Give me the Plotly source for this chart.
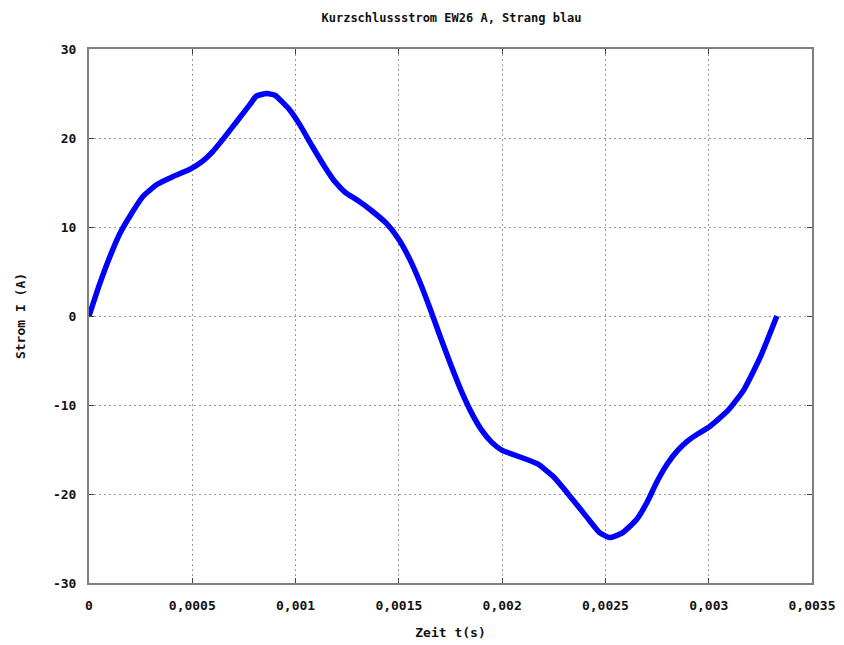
import plotly.graph_objects as go

t_s = [0, 0.00005, 0.0001, 0.00015, 0.0002, 0.00026, 0.00033, 0.00041, 0.00049, 0.00055,
       0.0006, 0.00065, 0.00072, 0.00078, 0.00081, 0.00086, 0.0009, 0.00097, 0.00102, 0.00108,
       0.00114, 0.00119, 0.00124, 0.0013, 0.00137, 0.00144, 0.0015, 0.00155, 0.0016, 0.00165,
       0.0017, 0.00175, 0.0018, 0.00185, 0.0019, 0.00195, 0.002, 0.00207, 0.00217, 0.00225,
       0.00233, 0.00241, 0.00247, 0.00252, 0.00258, 0.00265, 0.0027, 0.00275, 0.0028, 0.00285,
       0.0029, 0.00295, 0.003, 0.00309, 0.00317, 0.00325, 0.00333]
strom_a = [0, 3.5, 6.6, 9.3, 11.3, 13.4, 14.8, 15.7, 16.5, 17.4,
           18.5, 19.9, 22.0, 23.8, 24.7, 25.0, 24.8, 23.2, 21.5, 19.1,
           16.8, 15.1, 13.9, 13.0, 11.8, 10.4, 8.6, 6.5, 3.9, 0.9,
           -2.3, -5.4, -8.3, -10.8, -12.8, -14.2, -15.1, -15.7, -16.6, -18.1,
           -20.3, -22.6, -24.3, -24.9, -24.4, -22.9, -21.0, -18.6, -16.6, -15.1,
           -14.0, -13.2, -12.5, -10.7, -8.3, -4.6, 0]

x_tickvals = [0, 0.0005, 0.001, 0.0015, 0.002, 0.0025, 0.003, 0.0035]
x_ticktext = ["0", "0,0005", "0,001", "0,0015", "0,002", "0,0025", "0,003", "0,0035"]
y_tickvals = [-30, -20, -10, 0, 10, 20, 30]
y_ticktext = ["-30", "-20", "-10", "0", "10", "20", "30"]

title_text = "Kurzschlussstrom EW26 A, Strang blau"
x_title = "Zeit t(s)"
y_title = "Strom I (A)"

font_family = "DejaVu Sans Mono"
txt_font = dict(family=font_family, size=13, color="#111111", weight="bold")

fig = go.Figure()
fig.add_trace(go.Scatter(
    x=t_s, y=strom_a, mode="lines",
    line=dict(color="#0000ff", width=5.5, shape="spline", smoothing=0.5),
    showlegend=False, hoverinfo="skip",
))

axis_common = dict(
    showline=True, linecolor="#808080", linewidth=2, mirror="allticks",
    ticks="inside", ticklen=5, tickcolor="#444444", tickwidth=1,
    showgrid=True, gridcolor="#9a9a9a", griddash="2px,3px", gridwidth=1,
    zeroline=False, automargin=False,
    tickfont=txt_font,
)

fig.update_layout(
    width=844, height=645,
    margin=dict(l=89, r=32, t=49, b=62),
    paper_bgcolor="white", plot_bgcolor="white",
    title=dict(text=title_text, x=0.535, xanchor="center", y=0.972, yanchor="middle",
               font=dict(family=font_family, size=12, color="#111111", weight="bold")),
    xaxis=dict(range=[0, 0.0035], tickvals=x_tickvals, ticktext=x_ticktext,
               ticklabelstandoff=9,
               title=dict(text=x_title, font=txt_font, standoff=16),
               **axis_common),
    yaxis=dict(range=[-30, 30], tickvals=y_tickvals, ticktext=y_ticktext,
               ticklabelstandoff=8,
               title=dict(text=y_title, font=txt_font, standoff=24),
               **axis_common),
)

fig.write_html("out.html")
